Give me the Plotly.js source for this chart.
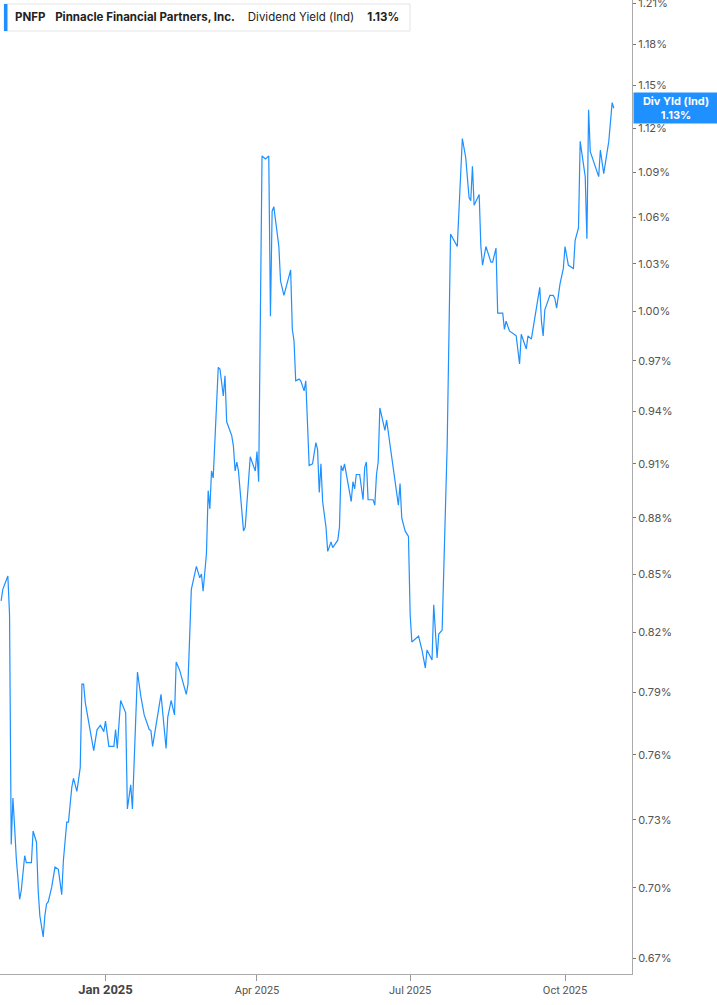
<!DOCTYPE html>
<html>
<head>
<meta charset="utf-8">
<script src="https://cdn.plot.ly/plotly-3.0.1.min.js"></script>
<style>
  html, body { margin: 0; padding: 0; background: #fff; }
  #chart { width: 717px; height: 1005px; }
</style>
</head>
<body>
<div id="chart"></div>
<script>
// Dividend yield (Ind) for PNFP
const dates = [
  '2024-10-31','2024-11-01','2024-11-04','2024-11-05','2024-11-06','2024-11-07','2024-11-08','2024-11-09',
  '2024-11-11','2024-11-12','2024-11-14','2024-11-15','2024-11-18','2024-11-19','2024-11-21','2024-11-22',
  '2024-11-23','2024-11-25','2024-11-26','2024-11-27','2024-11-28','2024-11-30','2024-12-02','2024-12-04',
  '2024-12-06','2024-12-07','2024-12-09','2024-12-10','2024-12-12','2024-12-13','2024-12-15','2024-12-17',
  '2024-12-18','2024-12-19','2024-12-20','2024-12-22','2024-12-25','2024-12-27','2024-12-29','2024-12-31',
  '2025-01-01','2025-01-03','2025-01-06','2025-01-07','2025-01-08','2025-01-10','2025-01-13','2025-01-14',
  '2025-01-16','2025-01-17','2025-01-20','2025-01-22','2025-01-24','2025-01-27','2025-01-28','2025-01-29',
  '2025-02-03','2025-02-06','2025-02-07','2025-02-09','2025-02-11','2025-02-12','2025-02-14','2025-02-18',
  '2025-02-19','2025-02-21','2025-02-24','2025-02-26','2025-02-27','2025-02-28','2025-03-02','2025-03-03',
  '2025-03-04','2025-03-05','2025-03-06','2025-03-09','2025-03-10','2025-03-12','2025-03-13','2025-03-14',
  '2025-03-17','2025-03-18','2025-03-19','2025-03-20','2025-03-21','2025-03-24','2025-03-25','2025-03-28',
  '2025-03-31','2025-04-01','2025-04-02','2025-04-04','2025-04-06','2025-04-08','2025-04-09','2025-04-10',
  '2025-04-11','2025-04-14','2025-04-15','2025-04-17','2025-04-21','2025-04-22','2025-04-23','2025-04-24',
  '2025-04-26','2025-04-27','2025-04-29','2025-04-30','2025-05-02','2025-05-04','2025-05-06','2025-05-07',
  '2025-05-08','2025-05-09','2025-05-10','2025-05-12','2025-05-13','2025-05-15','2025-05-16','2025-05-19',
  '2025-05-20','2025-05-21','2025-05-22','2025-05-23','2025-05-24','2025-05-27','2025-05-28','2025-05-29',
  '2025-05-30','2025-06-01','2025-06-03','2025-06-04','2025-06-05','2025-06-06','2025-06-09','2025-06-10',
  '2025-06-11','2025-06-12','2025-06-13','2025-06-16','2025-06-17','2025-06-20','2025-06-24','2025-06-25',
  '2025-06-26','2025-06-28','2025-06-30','2025-07-01','2025-07-02','2025-07-06','2025-07-08','2025-07-10',
  '2025-07-11','2025-07-14','2025-07-15','2025-07-17','2025-07-18','2025-07-20','2025-07-23','2025-07-25',
  '2025-07-27','2025-07-29','2025-08-01','2025-08-03','2025-08-05','2025-08-06','2025-08-07','2025-08-08',
  '2025-08-11','2025-08-12','2025-08-13','2025-08-15','2025-08-18','2025-08-19','2025-08-21','2025-08-22',
  '2025-08-25','2025-08-26','2025-08-27','2025-08-29','2025-09-02','2025-09-04','2025-09-05','2025-09-08',
  '2025-09-09','2025-09-11','2025-09-16','2025-09-17','2025-09-18','2025-09-19','2025-09-22','2025-09-24',
  '2025-09-25','2025-09-26','2025-09-28','2025-09-30','2025-10-01','2025-10-03','2025-10-06','2025-10-07',
  '2025-10-09','2025-10-10','2025-10-13','2025-10-14','2025-10-15','2025-10-16','2025-10-21','2025-10-22',
  '2025-10-24','2025-10-26','2025-10-27','2025-10-29','2025-10-30'
];

// yield in percent
const yieldPct = [
  0.836,0.842,0.849,0.829,0.719,0.740,0.727,0.713,
  0.695,0.699,0.714,0.711,0.711,0.725,0.720,0.699,
  0.688,0.679,0.688,0.693,0.694,0.700,0.709,0.708,
  0.697,0.712,0.729,0.729,0.745,0.749,0.743,0.754,
  0.794,0.794,0.785,0.776,0.762,0.772,0.774,0.771,
  0.776,0.764,0.764,0.772,0.763,0.786,0.780,0.735,
  0.746,0.735,0.800,0.788,0.779,0.772,0.7715,0.764,
  0.789,0.763,0.778,0.786,0.779,0.805,0.801,0.789,
  0.794,0.842,0.854,0.848,0.850,0.841,0.861,0.895,
  0.885,0.906,0.902,0.966,0.965,0.949,0.961,0.934,
  0.926,0.920,0.906,0.911,0.906,0.873,0.875,0.914,
  0.906,0.917,0.900,1.101,1.099,1.101,0.997,1.064,
  1.067,1.041,1.019,1.010,1.026,0.989,0.982,0.958,
  0.959,0.958,0.952,0.958,0.909,0.910,0.922,0.918,
  0.894,0.910,0.889,0.875,0.862,0.867,0.864,0.868,
  0.875,0.909,0.906,0.910,0.905,0.889,0.900,0.896,
  0.904,0.904,0.890,0.908,0.911,0.890,0.890,0.887,
  0.904,0.911,0.942,0.929,0.935,0.915,0.887,0.899,
  0.880,0.873,0.870,0.829,0.815,0.818,0.811,0.802,
  0.811,0.806,0.834,0.807,0.819,0.821,0.921,1.049,
  1.045,1.041,1.113,1.100,1.073,1.071,1.094,1.068,
  1.075,1.041,1.029,1.041,1.031,1.031,1.040,0.999,
  0.999,0.989,0.994,0.988,0.985,0.968,0.986,0.977,
  0.985,0.983,1.015,0.994,0.985,1.001,1.010,1.010,
  1.008,1.002,1.017,1.027,1.041,1.029,1.027,1.045,
  1.053,1.111,1.087,1.046,1.133,1.104,1.087,1.105,
  1.089,1.104,1.111,1.138,1.134
];

const yTicks = [0.67, 0.70, 0.73, 0.76, 0.79, 0.82, 0.85, 0.88, 0.91, 0.94, 0.97,
                1.00, 1.03, 1.06, 1.09, 1.12, 1.15, 1.18, 1.21];
const xTicks = ['2025-01-01', '2025-04-01', '2025-07-01', '2025-10-01'];
const xTickText = ['Jan 2025', 'Apr 2025', 'Jul 2025', 'Oct 2025'];

const lineColor = '#1E90FF';
const lastValue = yieldPct[yieldPct.length - 1];
const fontFam = 'Inter, Roboto, "Liberation Sans", sans-serif';

const trace = {
  x: dates,
  y: yieldPct,
  type: 'scatter',
  mode: 'lines',
  line: { color: lineColor, width: 1.2 },
  hoverinfo: 'skip'
};

const layout = {
  width: 717,
  height: 1005,
  margin: { l: 0, r: 85, t: 0, b: 31 },
  paper_bgcolor: '#ffffff',
  plot_bgcolor: '#ffffff',
  showlegend: false,
  font: { family: fontFam, color: '#555' },
  xaxis: {
    type: 'date',
    range: ['2024-10-30 08:00', '2025-11-09 19:00'],
    tickmode: 'array',
    tickvals: xTicks,
    ticktext: xTickText.map((t, i) => i === 0
      ? '<span style="font-size:13px;font-weight:bold;color:#444">' + t + '</span>'
      : t),
    tickfont: { size: 11, color: '#555', family: '"Liberation Sans Narrow", Roboto, sans-serif' },
    ticks: 'outside',
    ticklen: 6,
    tickcolor: '#999',
    showline: true,
    linecolor: '#aaa',
    linewidth: 1,
    showgrid: false,
    zeroline: false,
    fixedrange: true
  },
  yaxis: {
    type: 'log',
    side: 'right',
    range: [Math.log10(0.6636), Math.log10(1.2126)],
    tickmode: 'array',
    tickvals: yTicks,
    ticktext: yTicks.map(v => v.toFixed(2) + '%'),
    tickfont: { size: 11, color: '#555', family: fontFam },
    ticklabeloverflow: 'allow',
    ticks: 'outside',
    ticklen: 3,
    tickcolor: '#777',
    showline: true,
    linecolor: '#aaa',
    linewidth: 1,
    showgrid: false,
    zeroline: false,
    fixedrange: true
  },
  shapes: [
    // legend box on top left
    {
      type: 'rect', xref: 'paper', yref: 'paper',
      x0: 4 / 632, x1: 410 / 632, y0: 1 - 31 / 974, y1: 1 - 4 / 974,
      line: { color: '#e4e4e4', width: 1 }, fillcolor: '#ffffff', layer: 'above'
    },
    {
      type: 'rect', xref: 'paper', yref: 'paper',
      x0: 4 / 632, x1: 7.5 / 632, y0: 1 - 31 / 974, y1: 1 - 4 / 974,
      line: { width: 0 }, fillcolor: lineColor, layer: 'above'
    }
  ],
  annotations: [
    {
      xref: 'paper', yref: 'paper',
      x: 13 / 632, y: 1 - 17.5 / 974,
      xanchor: 'left', yanchor: 'middle',
      showarrow: false,
      font: { size: 11.5, color: '#222', family: fontFam },
      text: '<b>PNFP</b>   <b>Pinnacle Financial Partners, Inc.</b>    Dividend Yield (Ind)    <b>1.13%</b>'
    },
    {
      xref: 'paper', yref: 'y',
      x: 1, y: Math.log10(lastValue),
      xanchor: 'left', yanchor: 'middle',
      xshift: 1,
      showarrow: false,
      bgcolor: lineColor,
      width: 82,
      height: 28,
      align: 'center',
      font: { size: 11, color: '#ffffff', family: fontFam },
      text: '<b>Div Yld (Ind)</b><br><b>' + lastValue.toFixed(2) + '%</b>'
    }
  ]
};

Plotly.newPlot('chart', [trace], layout, { displayModeBar: false, staticPlot: true });
</script>
</body>
</html>
